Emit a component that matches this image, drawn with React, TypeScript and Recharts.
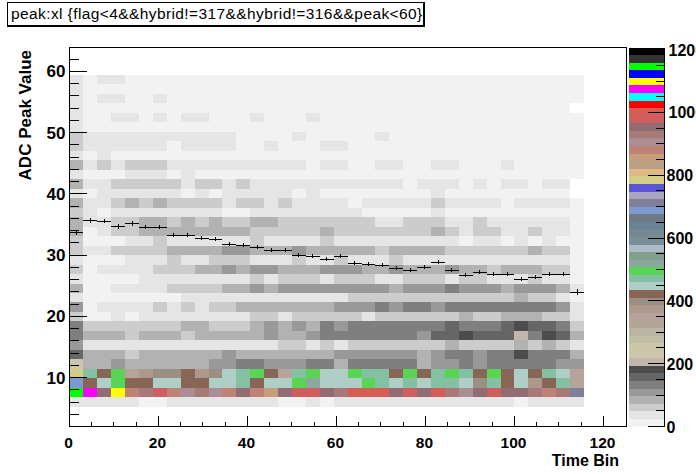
import { Bar, BarChart, ComposedChart, ErrorBar, ReferenceArea, Scatter, XAxis, YAxis } from "recharts";

const FONT = '"Liberation Sans", Arial, sans-serif';

// x bins are 125/40 wide, y bins start just above 5 and are about 1.55 high
const binX = 3.125;
const binY = 1.548;
const firstY = 5.23;
const xMax = 125.17;
const yMin = 2;
const yMax = 63.9;
const zMax = 1207;

// entries per bin, bottom row first
const peakRow00 = [36,36,36,36,36,12,12,36,36,36,36,36,36,36,36,12,12,36,12,36,36,36,36,36,36,36,36,36,36,36,36,36,12,36,36,36,36];
const peakRow01 = [1140,1068,948,1092,876,924,972,876,900,924,900,876,948,876,852,948,972,972,948,924,996,996,996,948,972,948,996,924,900,948,972,948,948,924,876,924,708];
const peakRow02 = [684,420,444,492,420,420,444,444,420,420,444,444,468,420,444,444,492,516,444,444,444,492,468,444,468,444,468,468,444,396,468,420,444,372,420,468,348];
const peakRow03 = [780,468,420,492,348,372,396,396,420,372,396,444,468,492,420,348,468,492,444,444,492,468,468,420,492,420,468,492,468,420,492,420,444,420,468,444,348];
const peakRow04 = [228,84,84,108,84,84,84,84,84,84,108,108,132,132,108,108,108,132,132,84,132,132,132,132,132,84,108,108,132,108,132,132,132,132,132,108,108];
const peakRow05 = [156,84,84,84,60,84,84,84,84,84,84,108,84,84,84,84,84,84,84,108,108,108,108,108,108,84,108,132,132,108,132,132,180,132,132,132,84];
const peakRow06 = [108,36,36,36,36,36,36,36,36,36,36,36,36,36,36,60,60,36,60,36,60,60,60,60,60,60,60,84,60,60,60,60,84,60,84,60,36];
const peakRow07 = [132,84,84,84,60,84,84,84,60,84,84,84,84,84,108,84,84,108,132,132,132,132,132,132,132,108,156,156,180,156,156,156,204,132,180,156,84];
const peakRow08 = [132,60,60,60,60,60,60,60,84,84,60,60,60,84,108,84,108,84,132,108,132,132,132,132,132,132,132,156,132,132,132,156,180,156,156,132,60];
const peakRow09 = [60,12,12,36,12,36,36,36,36,36,36,36,36,60,60,36,60,60,60,60,60,36,60,60,60,60,60,60,84,60,60,84,84,84,60,60,36];
const peakRow10 = [108,12,36,36,36,36,60,36,60,36,60,60,84,84,84,84,84,84,84,108,108,108,132,108,132,132,108,132,132,132,132,132,132,132,132,108,36];
const peakRow11 = [36,12,12,12,12,12,12,12,36,36,36,36,36,36,36,36,36,36,36,36,60,60,60,60,60,60,60,60,60,60,60,60,84,60,60,36,12];
const peakRow12 = [84,12,12,36,36,36,36,60,60,60,60,84,84,108,84,108,108,108,108,108,108,108,108,84,108,108,108,132,108,108,108,84,108,108,108,84,36];
const peakRow13 = [36,12,12,12,12,36,36,36,36,36,36,36,36,60,36,60,60,60,36,60,60,60,36,36,60,60,60,36,60,60,36,36,36,60,36,36,12];
const peakRow14 = [60,12,36,36,36,36,60,60,60,84,84,108,84,108,108,84,84,84,108,108,108,84,84,108,84,84,84,108,84,84,60,84,84,84,60,60,12];
const peakRow15 = [36,12,12,12,36,36,36,60,36,36,60,60,60,36,36,36,60,36,36,60,36,36,36,60,36,36,36,36,36,36,36,36,36,36,36,36,12];
const peakRow16 = [60,36,36,60,60,60,60,84,84,84,84,108,108,84,84,84,108,84,84,84,84,84,60,84,84,84,84,60,60,60,60,60,60,84,60,60,12];
const peakRow17 = [60,12,12,12,36,36,60,36,36,36,36,36,36,60,36,36,36,36,60,36,36,36,36,36,36,36,36,36,12,36,36,12,36,12,36,12,12];
const peakRow18 = [84,12,36,60,60,84,84,84,84,84,84,84,84,60,60,60,60,60,84,60,60,60,60,60,60,60,84,60,36,60,60,36,36,60,36,36,12];
const peakRow19 = [84,36,36,60,60,84,84,60,84,60,84,60,60,84,84,60,60,60,60,60,60,60,36,36,60,60,60,36,36,60,36,36,36,36,36,36,12];
const peakRow20 = [60,36,12,36,36,36,36,36,36,36,36,12,12,36,36,36,36,36,36,36,36,12,12,12,12,12,36,12,12,12,12,12,12,12,12,12,12];
const peakRow21 = [84,36,36,60,84,60,84,60,60,60,60,36,60,60,36,60,36,36,36,36,12,36,36,36,36,36,60,36,36,36,36,12,36,36,36,36,12];
const peakRow22 = [36,12,36,36,36,36,36,36,12,36,12,36,36,36,36,36,12,36,12,12,12,12,12,12,12,12,36,12,12,12,12,12,12,12,12,12,0];
const peakRow23 = [84,36,36,60,60,60,60,60,36,60,60,36,60,36,36,36,36,36,36,36,36,36,36,36,12,36,36,36,12,36,12,36,36,12,36,36,0];
const peakRow24 = [36,12,12,12,36,36,36,12,36,12,12,12,12,12,12,12,12,12,12,12,12,12,12,12,12,12,12,12,12,12,12,12,12,12,12,12,12];
const peakRow25 = [84,36,60,36,60,60,60,36,36,36,36,36,36,36,36,36,36,12,36,36,12,12,36,36,12,12,36,36,12,12,12,36,12,12,12,12,12];
const peakRow26 = [36,12,36,12,12,12,12,12,12,12,12,12,12,12,12,12,12,12,12,12,12,12,12,12,12,12,12,12,12,12,12,12,12,12,12,12,12];
const peakRow27 = [60,36,36,36,36,36,36,12,36,36,36,36,12,12,36,12,12,12,36,36,12,12,12,12,12,12,12,12,12,12,12,12,12,12,12,12,12];
const peakRow28 = [60,36,36,36,36,36,36,36,36,36,36,36,12,12,12,12,36,12,12,12,12,12,36,12,12,12,12,12,12,12,12,12,12,12,12,12,12];
const peakRow29 = [36,12,12,12,12,12,12,12,12,12,12,12,12,12,12,12,12,12,12,12,12,12,12,12,12,12,12,12,12,12,12,12,12,12,12,12,12];
const peakRow30 = [36,12,12,36,36,12,36,12,36,36,12,12,12,36,12,12,12,36,12,12,12,12,12,12,12,12,12,12,12,12,12,12,12,12,12,12,12];
const peakRow31 = [36,12,12,12,12,12,12,12,12,12,12,12,12,12,12,12,12,12,12,12,12,12,12,12,12,12,12,12,12,12,12,12,12,12,12,12,0];
const peakRow32 = [36,12,36,36,12,12,36,12,12,12,12,12,12,12,12,12,12,12,12,12,12,12,12,12,12,12,12,12,12,12,12,12,12,12,12,12,12];
const peakRow33 = [36,12,12,12,12,12,12,12,12,12,12,12,12,12,12,12,12,12,12,12,12,12,12,12,12,12,12,12,12,12,12,12,12,12,12,12,12];
const peakRow34 = [36,12,36,36,12,12,12,12,12,12,12,12,12,12,12,12,12,12,12,12,12,12,12,12,12,12,12,12,12,12,12,12,12,12,12,12,12];

const peakRows = [
  peakRow00, peakRow01, peakRow02, peakRow03, peakRow04, peakRow05, peakRow06,
  peakRow07, peakRow08, peakRow09, peakRow10, peakRow11, peakRow12, peakRow13,
  peakRow14, peakRow15, peakRow16, peakRow17, peakRow18, peakRow19, peakRow20,
  peakRow21, peakRow22, peakRow23, peakRow24, peakRow25, peakRow26, peakRow27,
  peakRow28, peakRow29, peakRow30, peakRow31, peakRow32, peakRow33, peakRow34,
];

// mean peak per time bin, the black profile crosses
const meanPeak = [33.72,35.68,35.56,34.7,35.19,34.53,34.53,33.23,33.23,32.74,32.57,31.76,31.59,31.27,30.78,30.78,29.96,29.8,29.31,29.8,28.65,28.49,28.33,27.84,27.51,28.0,28.82,27.51,26.69,27.18,26.86,26.86,26.04,26.37,26.86,26.86,23.92];
const meanError = [0.45,0.45,0.4,0.4,0.4,0.35,0.35,0.35,0.35,0.3,0.3,0.3,0.3,0.3,0.3,0.3,0.3,0.3,0.3,0.3,0.3,0.3,0.3,0.3,0.3,0.3,0.35,0.3,0.3,0.3,0.35,0.35,0.3,0.35,0.35,0.35,0.5];

const palette = [
  "#f2f2f2","#e5e5e5","#cccccc","#b2b2b2","#999999","#7f7f7f","#666666","#4c4c4c","#c0b6ac","#ccc6aa",
  "#ccc6aa","#c1bfa8","#bab5a3","#b2a596","#b7a39b","#ad998c","#9b8e82","#876656","#afcec6","#84c1a3",
  "#59d454","#89a8a0","#829e8c","#adbcc6","#7a8e99","#758991","#688296","#6d7a84","#7c99d1","#7f7f9b",
  "#aaa5bf","#5954d9","#d3ce87","#ddba87","#bc9e82","#c69e7a","#bf8277","#aa8e93","#a87a77","#936b72",
  "#ce5e60","#d45d55","#ff0000","#00ffff","#ff00ff","#ffff00","#0000ff","#00ff00","#333333","#000000",
];
const levelWidth = zMax / palette.length;

const xTicks = [0,5,10,15,20,25,30,35,40,45,50,55,60,65,70,75,80,85,90,95,100,105,110,115,120];
const yTicks = [4,6,8,10,12,14,16,18,20,22,24,26,28,30,32,34,36,38,40,42,44,46,48,50,52,54,56,58,60,62];
const zTicks = [0,50,100,150,200,250,300,350,400,450,500,550,600,650,700,750,800,850,900,950,1000,1050,1100,1150,1200];

const profile = meanPeak.map((y, i) => ({
  x: (i + 0.5) * binX,
  y,
  xErr: binX / 2,
  yErr: meanError[i],
}));

const legendRow = [Object.fromEntries(palette.map((_, i) => [`level${i}`, levelWidth]))];

function XTick({ x, y, payload }: any) {
  const major = payload.value % 20 === 0;
  return (
    <g>
      <line x1={x} x2={x} y1={y} y2={y - (major ? 11 : 5)} stroke="#000" />
      {major && (
        <text x={x - 1} y={y + 21} textAnchor="middle" fontFamily={FONT} fontWeight="bold" fontSize={15.5} fill="#000">
          {payload.value}
        </text>
      )}
    </g>
  );
}

function YTick({ x, y, payload }: any) {
  const major = payload.value % 10 === 0;
  return (
    <g>
      <line x1={x} x2={x + (major ? 17 : 9)} y1={y} y2={y} stroke="#000" />
      {major && (
        <text x={x - 4} y={y + 6} textAnchor="end" fontFamily={FONT} fontWeight="bold" fontSize={17} fill="#000">
          {payload.value}
        </text>
      )}
    </g>
  );
}

function ZTick({ x, y, payload }: any) {
  const major = payload.value % 200 === 0;
  return (
    <g>
      <line x1={x} x2={x - (major ? 17 : 9)} y1={y} y2={y} stroke="#000" />
      {major && (
        <text x={x + (payload.value >= 1000 ? 4 : 2)} y={y + 6} fontFamily={FONT} fontWeight="bold" fontSize={16} fill="#000">
          {payload.value}
        </text>
      )}
    </g>
  );
}

const boxStyle: React.CSSProperties = {
  position: "absolute",
  left: 7,
  top: 2,
  width: 412,
  height: 22,
  border: "1px solid #000",
  borderRightWidth: 2,
  borderBottomWidth: 2,
  background: "#fff",
  fontFamily: FONT,
  fontSize: 15.5,
  letterSpacing: 0.4,
  lineHeight: "22px",
  paddingLeft: 3,
  whiteSpace: "nowrap",
  color: "#000",
  boxSizing: "content-box",
  overflow: "hidden",
};

export default function App() {
  return (
    <div style={{ position: "absolute", left: 0, top: 0, width: 696, height: 474, overflow: "hidden", background: "#fff" }}>
      <ComposedChart
        width={696}
        height={474}
        margin={{ top: 47.5, left: 68.5, right: 69.5, bottom: 46.5 }}
        style={{ shapeRendering: "crispEdges", position: "absolute", left: 0, top: 0 }}
      >
        {peakRows.map((row, r) =>
          row.map((count, c) =>
            count > 0 ? (
              <ReferenceArea
                key={`${r}-${c}`}
                x1={c * binX}
                x2={(c + 1) * binX}
                y1={firstY + r * binY}
                y2={firstY + (r + 1) * binY}
                fill={palette[Math.floor(count / levelWidth)]}
                fillOpacity={1}
                stroke="none"
              />
            ) : null
          )
        )}
        <XAxis
          type="number"
          dataKey="x"
          domain={[0, xMax]}
          ticks={xTicks}
          interval={0}
          height={1}
          tickSize={0}
          tickMargin={0}
          tick={<XTick />}
          axisLine={{ stroke: "#000" }}
          allowDataOverflow
        />
        <YAxis
          type="number"
          dataKey="y"
          domain={[yMin, yMax]}
          ticks={yTicks}
          interval={0}
          width={1}
          tickSize={0}
          tickMargin={0}
          tick={<YTick />}
          axisLine={{ stroke: "#000" }}
          allowDataOverflow
        />
        <ReferenceArea x1={0} x2={xMax} y1={yMin} y2={yMax} fill="none" stroke="#000" isFront />
        <Scatter data={profile} shape={() => <g />} isAnimationActive={false}>
          <ErrorBar dataKey="xErr" direction="x" width={0} stroke="#000" strokeWidth={1} isAnimationActive={false} />
          <ErrorBar dataKey="yErr" direction="y" width={0} stroke="#000" strokeWidth={1} isAnimationActive={false} />
        </Scatter>
      </ComposedChart>

      <BarChart
        width={696}
        height={474}
        data={legendRow}
        barCategoryGap={0}
        margin={{ top: 47.5, left: 629, right: 30.5, bottom: 47.5 }}
        style={{ shapeRendering: "crispEdges", position: "absolute", left: 0, top: 0 }}
      >
        <XAxis type="category" hide />
        <YAxis
          type="number"
          orientation="right"
          domain={[0, zMax]}
          ticks={zTicks}
          interval={0}
          width={1}
          tickSize={0}
          tickMargin={0}
          tick={<ZTick />}
          axisLine={{ stroke: "#000" }}
          allowDataOverflow
        />
        {palette.map((color, i) => (
          <Bar key={color + i} dataKey={`level${i}`} stackId="z" fill={color} isAnimationActive={false} />
        ))}
      </BarChart>

      <svg width={696} height={474} style={{ position: "absolute", left: 0, top: 0, pointerEvents: "none" }}>
        <text x={619} y={466} textAnchor="end" fontFamily={FONT} fontWeight="bold" fontSize={16} fill="#000">
          Time Bin
        </text>
        <text transform="translate(31,50) rotate(-90)" textAnchor="end" fontFamily={FONT} fontWeight="bold" fontSize={17} fill="#000">
          ADC Peak Value
        </text>
      </svg>

      <div style={boxStyle}>{"peak:xl {flag<4&&hybrid!=317&&hybrid!=316&&peak<60}"}</div>
    </div>
  );
}
